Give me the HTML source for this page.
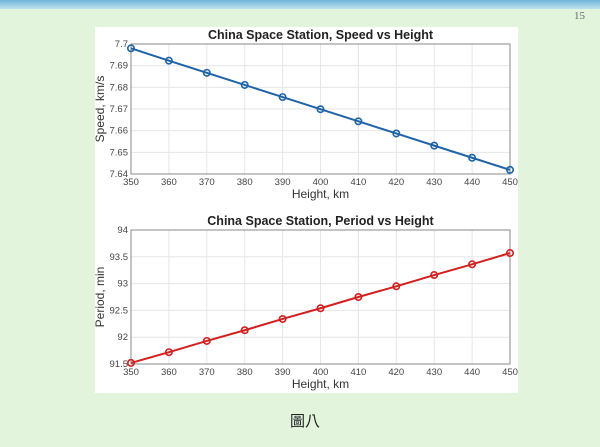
<!DOCTYPE html>
<html><head><meta charset="utf-8"><style>
body{margin:0;width:600px;height:447px;overflow:hidden;background:#e3f4dc;font-family:"Liberation Sans",sans-serif;position:relative}
#topbar{position:absolute;left:0;top:0;width:600px;height:9px;background:linear-gradient(#6fb3d8,#bfe3ee)}
#pg{position:absolute;left:574px;top:10px;font-family:"Liberation Serif",serif;font-size:11px;color:#666}
#panel{position:absolute;left:95px;top:27px;width:423px;height:366px;background:#fff}
#cap{position:absolute;left:290px;top:410px;font-size:15px;color:#222;font-family:"Liberation Sans","Noto Sans CJK TC",sans-serif}
svg{position:absolute;left:0;top:0}
</style></head><body>
<div id="topbar"></div>
<div id="pg">15</div>
<div id="panel"></div>
<div id="cap">圖八</div>
<svg id="s" width="600" height="447"></svg>
<script>
const heights=[350,360,370,380,390,400,410,420,430,440,450];
const speeds=[7.698,7.6923,7.6867,7.6811,7.6755,7.6699,7.6643,7.6587,7.6531,7.6475,7.6419];
const periods=[91.52,91.72,91.93,92.13,92.34,92.54,92.75,92.95,93.16,93.36,93.57];
const speedTicks=["7.64","7.65","7.66","7.67","7.68","7.69","7.7"];
const periodTicks=["91.5","92","92.5","93","93.5","94"];
const xTicks=[350,360,370,380,390,400,410,420,430,440,450];
const NS="http://www.w3.org/2000/svg",svg=document.getElementById('s');
function mk(t,a,txt){const e=document.createElementNS(NS,t);for(const k in a)e.setAttribute(k,a[k]);if(txt!==undefined)e.textContent=txt;svg.appendChild(e);return e;}
function chart(o){
 const L=131,R=510,T=o.top,B=o.bot;
 const x=v=>L+(v-350)/100*(R-L);
 const y=v=>B-(v-o.min)/(o.max-o.min)*(B-T);
 xTicks.forEach(v=>{const g=mk('line',{x1:x(v),x2:x(v),y1:T,y2:B,stroke:'#e6e6e6','stroke-width':1});
 
 const t=mk('text',{x:x(v),y:B+11,'font-size':9.5,'text-anchor':'middle',fill:'#444'},v);
 });
 o.ticks.forEach(s=>{const v=+s;const g=mk('line',{x1:L,x2:R,y1:y(v),y2:y(v),stroke:'#e6e6e6','stroke-width':1});
 
 const t=mk('text',{x:L-3,y:y(v)+3,'font-size':9.5,'text-anchor':'end',fill:'#444'},s);
 });
 const bx=mk('rect',{x:L,y:T,width:R-L,height:B-T,fill:'none',stroke:'#888','stroke-width':1});
 
 const tt=mk('text',{x:(L+R)/2,y:T-5,'font-size':12.5,'font-weight':'bold','text-anchor':'middle',fill:'#222'},o.title);
 
 const xl=mk('text',{x:(L+R)/2,y:B+24,'font-size':12,'text-anchor':'middle',fill:'#333'},'Height, km');
 
 const yl=mk('text',{x:0,y:0,'font-size':12,'text-anchor':'middle',fill:'#333',transform:`translate(${L-27},${(T+B)/2}) rotate(-90)`},o.ylab);
 
 const pl=mk('polyline',{points:o.data.map((v,i)=>x(heights[i])+','+y(v)).join(' '),fill:'none',stroke:o.col,'stroke-width':2});
 
 o.data.forEach((v,i)=>{const c=mk('circle',{cx:x(heights[i]),cy:y(v),r:3.2,fill:'none',stroke:o.col,'stroke-width':1.6});
 });
}
chart({top:44,bot:174,min:7.64,max:7.7,ticks:speedTicks,data:speeds,col:'#1f64a8',title:'China Space Station, Speed vs Height',ylab:'Speed, km/s'});
chart({top:230,bot:364,min:91.5,max:94,ticks:periodTicks,data:periods,col:'#d41f1f',title:'China Space Station, Period vs Height',ylab:'Period, min'});
</script>
</body></html>
